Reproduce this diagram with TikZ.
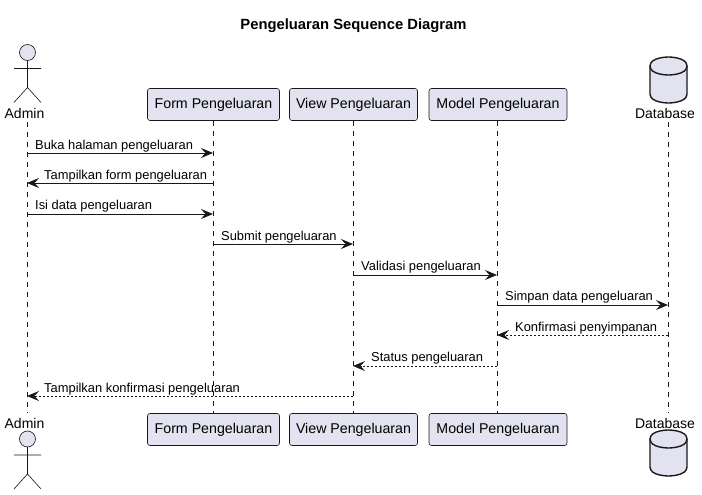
\documentclass[tikz,border=0pt]{standalone}
\usepackage{fontspec}
\setmainfont{Liberation Sans}
\usetikzlibrary{arrows.meta}
\definecolor{partfill}{HTML}{E2E2F0}
\definecolor{partline}{HTML}{181818}
\tikzset{
  partbox/.style={draw=partline,fill=partfill,line width=0.6pt,rounded corners=2.5pt,minimum height=32pt,inner sep=0pt,font=\fontsize{14.2}{14.2}\selectfont,text=black,anchor=center},
  actorlabel/.style={font=\fontsize{14}{14}\selectfont,inner sep=0pt,text=black},
  lifeline/.style={draw=partline,line width=0.5pt,dash pattern=on 5pt off 5pt},
  stick/.style={draw=partline,line width=0.6pt,fill=partfill},
  dbshape/.style={draw=partline,line width=1.4pt,fill=partfill},
  msg/.style={draw=partline,line width=1pt,-{Stealth[length=12pt,width=10pt,inset=4.5pt]}},
  reply/.style={msg,dash pattern=on 2pt off 2pt,-{Stealth[length=12pt,width=10pt,inset=4.5pt,line width=0pt]}},
  msglabel/.style={font=\fontsize{12.9}{13}\selectfont,inner sep=0pt,anchor=base west,text=black},
  titlelabel/.style={font=\bfseries\fontsize{14.8}{15}\selectfont,inner sep=0pt,text=black}
}
\begin{document}
\begin{tikzpicture}[x=1pt,y=-1pt]
\useasboundingbox (0,0) rectangle (702,495);
\fill[white] (0,0) rectangle (702,495);
\node[titlelabel] (title) at (353.5,26) {Pengeluaran Sequence Diagram};
% lifeline end points
\coordinate (at) at (27,122); \coordinate (ab) at (27,413);
\coordinate (ft) at (213,121); \coordinate (fb) at (213,413);
\coordinate (vt) at (353,121); \coordinate (vb) at (353,413);
\coordinate (mt) at (497,121); \coordinate (mb) at (497,413);
\coordinate (dt) at (668,122); \coordinate (db) at (668,413);
\foreach \p/\q in {at/ab,ft/fb,vt/vb,mt/mb,dt/db} \draw[lifeline] (\p) -- (\q);
% participants
\node[partbox,minimum width=132pt] (form) at (213.5,104.5) {Form Pengeluaran};
\node[partbox,minimum width=128pt] (view) at (353.5,104.5) {View Pengeluaran};
\node[partbox,minimum width=138pt] (model) at (498,104.5) {Model Pengeluaran};
\node[partbox,minimum width=132pt] (form2) at (213.5,429.5) {Form Pengeluaran};
\node[partbox,minimum width=128pt] (view2) at (353.5,429.5) {View Pengeluaran};
\node[partbox,minimum width=138pt] (model2) at (498,429.5) {Model Pengeluaran};
% actors
\foreach \y in {52.5,439}{
  \draw[stick] (27.5,\y) circle (8);
  \draw[stick,fill=none] (27.5,\y+8) -- (27.5,\y+35) (14,\y+16) -- (41,\y+16)
     (14,\y+50) -- (27.5,\y+35) -- (41,\y+50);
}
\node[actorlabel] (admin) at (24.5,113) {Admin};
\node[actorlabel] (admin2) at (24.5,423) {Admin};
% databases
\foreach \y in {57,430}{
  \draw[dbshape] (650,\y+9) .. controls (650,\y) and (668.5,\y) .. (668.5,\y)
     .. controls (668.5,\y) and (687,\y) .. (687,\y+9)
     -- (687,\y+37) .. controls (687,\y+46) and (668.5,\y+46) .. (668.5,\y+46)
     .. controls (668.5,\y+46) and (650,\y+46) .. (650,\y+37) -- cycle;
  \draw[dbshape,fill=none] (650,\y+9) .. controls (650,\y+18) and (668.5,\y+18) .. (668.5,\y+18)
     .. controls (668.5,\y+18) and (687,\y+18) .. (687,\y+9);
}
\node[actorlabel] (database) at (665,113) {Database};
\node[actorlabel] (database2) at (665,423) {Database};
% messages
\draw[msg] (27,153) -- (213,153);
\draw[msg] (213,183) -- (27,183);
\draw[msg] (27,214) -- (213,214);
\draw[msg] (213,244) -- (353,244);
\draw[msg] (353,275) -- (497,275);
\draw[msg] (497,305) -- (668,305);
\draw[reply] (668,335) -- (497,335);
\draw[reply] (497,366) -- (353,366);
\draw[reply] (353,396) -- (27,396);
\node[msglabel] (m1) at (35,149) {Buka halaman pengeluaran};
\node[msglabel] (m2) at (44,179) {Tampilkan form pengeluaran};
\node[msglabel] (m3) at (35,209) {Isi data pengeluaran};
\node[msglabel] (m4) at (221,240) {Submit pengeluaran};
\node[msglabel] (m5) at (361,270) {Validasi pengeluaran};
\node[msglabel] (m6) at (505,300) {Simpan data pengeluaran};
\node[msglabel] (m7) at (515,331) {Konfirmasi penyimpanan};
\node[msglabel] (m8) at (371,361) {Status pengeluaran};
\node[msglabel] (m9) at (44,392) {Tampilkan konfirmasi pengeluaran};
\end{tikzpicture}
\end{document}
